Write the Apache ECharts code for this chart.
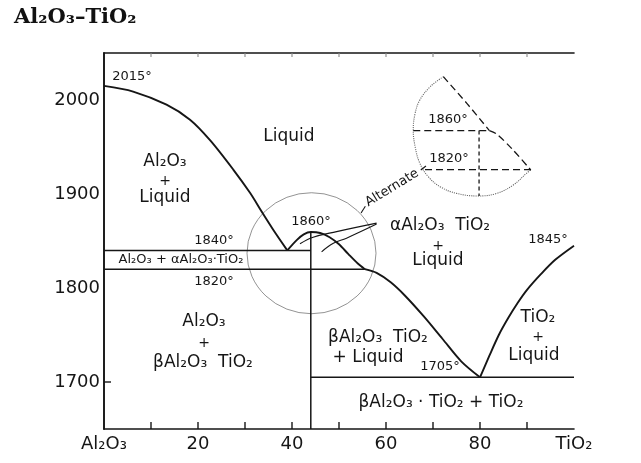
<!DOCTYPE html>
<html><head><meta charset="utf-8">
<script src="https://cdn.jsdelivr.net/npm/echarts@6/dist/echarts.min.js"></script>
<style>html,body{margin:0;padding:0;background:#fff}#c{width:641px;height:463px}</style>
</head><body><div id="c"></div>
<script>
// ---- data (composition wt% TiO2, temperature °C) ----
const xTickLabels = {0:'Al₂O₃',20:'20',40:'40',60:'60',80:'80',100:'TiO₂'};
const yTickLabels = [1700,1800,1900,2000];
const xTickMarks = [10,20,30,40,50,60,70,80,90];
const yTickMarks = [1700];
const liquidusAl2O3 = [[0,2015],[6.2,2009],[13.3,1995],[18.3,1979],[22.6,1957],[27.5,1926],[31.1,1901],[33.7,1880],[36,1862],[39,1840]];
const dome = [[39,1840],[41,1851],[42.5,1857],[44,1859.5],[46,1858.5],[48,1854],[50,1846.5],[52,1836],[54,1826],[55.5,1820]];
const liquidusMid = [[55.5,1820],[58,1816],[61,1806],[64,1792],[68,1770],[72,1746],[76,1722],[80,1705]];
const liquidusTiO2 = [[80,1705],[82,1728],[84,1750],[86,1768],[88,1784],[90,1798],[93,1815],[96,1830],[100,1845]];
const line1840 = [[0,1840],[44,1840]];
const line1820 = [[0,1820],[55.5,1820]];
const line1705 = [[44,1705],[100,1705]];
const compoundLine = [[44,1859.5],[44,1650]];
const leaderA = [[58,1869],[49.5,1860],[44.5,1854],[41.7,1847]];
const leaderB = [[58,1868],[51.6,1853],[48.8,1847.5],[46.3,1838.5]];
const magnifier = [[44.15,1837]];
// alternate (inset)
const altArc = [[72.2,2024.8],[69.4,2014.1],[67.2,2000],[66.2,1985.9],[65.8,1968.1],[66.2,1950.3],[67.2,1932.7],[69,1918.4],[71.5,1907.8],[75,1900.7],[79.6,1897.9],[83.6,1900.7],[87.1,1909.6],[89.9,1922],[90.8,1925.5]];
const altLiqLeft = [[72.2,2024.8],[77.2,1996.4],[82,1967.5]];
const altLiqRight = [[82,1967.5],[83.5,1964],[87,1947],[90.8,1925.5]];
const alt1860 = [[65.8,1967.5],[82,1967.5]];
const alt1820 = [[68.3,1926],[90.8,1926]];
const altVertical = [[79.8,1967.5],[79.8,1897.9]];
const altLeader1 = [[54.7,1879.8],[55.6,1887]];
const altLeader2 = [[67.4,1925.5],[68.5,1929.8]];

const XMIN = 0, XMAX = 100, YMIN = 1650, YMAX = 2050;
const INK = '#161616';
const SANS = 'DejaVu Sans';
function ln(data, opt) {
  opt = opt || {};
  return {type:'line', data, symbol:'none', smooth: opt.smooth || false, silent:true,
    lineStyle:{color: opt.color || INK, width: opt.width || 1.7, type: opt.type || 'solid'}, z: opt.z || 3};
}
const chart = echarts.init(document.getElementById('c'));
function t(x, y, text, size, extra) {
  return Object.assign({type:'text', x, y, style:{text, fill:INK, font: (size||17)+'px "'+SANS+'"', align:'center', verticalAlign:'middle'}}, extra||{});
}
const texts = [
    {type:'text', left:14, top:7, style:{text:'Al₂O₃–TiO₂', fill:'#111', font:'bold 21px "DejaVu Serif"'}},
    t(132,77,'2015°',13),
    t(289,137,'Liquid',17),
    t(165,162,'Al₂O₃',17), t(165,181,'+',14), t(165,198,'Liquid',17),
    t(214,241,'1840°',13),
    t(181,260,'Al₂O₃ + αAl₂O₃·TiO₂',13),
    t(214,282,'1820°',13),
    t(204,322,'Al₂O₃',17), t(204,343,'+',14), t(203,363,'βAl₂O₃  TiO₂',17),
    t(311,222,'1860°',13),
    t(440,226,'αAl₂O₃  TiO₂',17), t(438,246,'+',14), t(438,261,'Liquid',17),
    t(392,188,'Alternate',13,{rotation:0.55}),
    t(448,120,'1860°',13), t(449,159,'1820°',13),
    t(548,240,'1845°',13),
    t(538,318,'TiO₂',17), t(538,337,'+',14), t(534,356,'Liquid',17),
    t(378,338,'βAl₂O₃  TiO₂',17), t(368,358,'+ Liquid',17),
    t(440,367,'1705°',13),
    t(441,403,'βAl₂O₃ · TiO₂ + TiO₂',17)
];
chart.setOption({
  animation:false,
  grid:{left:104, right:67, top:53, bottom:34, containLabel:false},
  xAxis:[{type:'value', min:XMIN, max:XMAX, interval:10, position:'bottom',
    axisLine:{show:true, lineStyle:{color:INK, width:1.6}},
    axisTick:{show:false},
    axisLabel:{formatter:v=>xTickLabels[v]||'', color:INK, fontFamily:SANS, fontSize:18, margin:6},
    splitLine:{show:false}},
   {type:'value', min:XMIN, max:XMAX, interval:10, position:'top',
    axisLine:{show:true, lineStyle:{color:INK, width:1.6}},
    axisTick:{show:false}, axisLabel:{show:false}, splitLine:{show:false}}],
  yAxis:[{type:'value', min:YMIN, max:YMAX, interval:50, position:'left',
    axisLine:{show:true, lineStyle:{color:INK, width:1.6}},
    axisTick:{show:false},
    axisLabel:{formatter:v=>(yTickLabels.indexOf(v)>=0?String(v):''), color:INK, fontFamily:SANS, fontSize:18, margin:4},
    splitLine:{show:false}},
   {type:'value', min:YMIN, max:YMAX, interval:50, position:'right',
    axisLine:{show:true, lineStyle:{color:INK, width:1.6}},
    axisTick:{show:false}, axisLabel:{show:false}, splitLine:{show:false}}],
  series:[
    ln(liquidusAl2O3,{smooth:0.3, width:1.9}),
    ln(dome,{smooth:0.3, width:1.9}),
    ln(liquidusMid,{smooth:0.3, width:1.9}),
    ln(liquidusTiO2,{smooth:0.3, width:1.9}),
    ln(line1840,{width:1.5}),
    ln(line1820,{width:1.5}),
    ln(line1705,{width:1.5}),
    ln(compoundLine,{width:1.5}),
    ln(leaderA,{smooth:0.4, width:1.1}),
    ln(leaderB,{smooth:0.4, width:1.1}),
    {type:'scatter', data:magnifier, symbol:'circle', symbolSize:[129,121], silent:true,
      itemStyle:{color:'rgba(0,0,0,0)', borderColor:'#555', borderWidth:0.8}, z:2},
    ln(altArc,{smooth:0.4, width:1.1, type:'dotted', color:'#666'}),
    ln(altLiqLeft,{smooth:0.3, width:1.3, type:[7,4]}),
    ln(altLiqRight,{smooth:0.3, width:1.3, type:[7,4]}),
    ln(alt1860,{width:1.3, type:[7,4]}),
    ln(alt1820,{width:1.3, type:[7,4]}),
    ln(altVertical,{width:1.3, type:[4,3]}),
    ln(altLeader1,{width:1.1}),
    ln(altLeader2,{width:1.1})
  ],
  graphic: texts
});
// axis tick marks placed through the chart's own scales
const tickEls = [];
xTickMarks.forEach(v => {
  const b = chart.convertToPixel({gridIndex:0}, [v, YMIN]);
  const tp = chart.convertToPixel({gridIndex:0}, [v, YMAX]);
  if (b) tickEls.push({type:'line', shape:{x1:b[0], y1:b[1], x2:b[0], y2:b[1]-7}, style:{stroke:INK, lineWidth:1.4}, z:50});
  if (tp) tickEls.push({type:'line', shape:{x1:tp[0], y1:tp[1], x2:tp[0], y2:tp[1]+4}, style:{stroke:'#888', lineWidth:1.1}, z:50});
});
yTickMarks.forEach(v => {
  const p = chart.convertToPixel({gridIndex:0}, [XMIN, v]);
  if (p) tickEls.push({type:'line', shape:{x1:p[0], y1:p[1], x2:p[0]+7, y2:p[1]}, style:{stroke:INK, lineWidth:1.4}, z:50});
});
chart.setOption({graphic: texts.concat(tickEls)});
</script></body></html>
